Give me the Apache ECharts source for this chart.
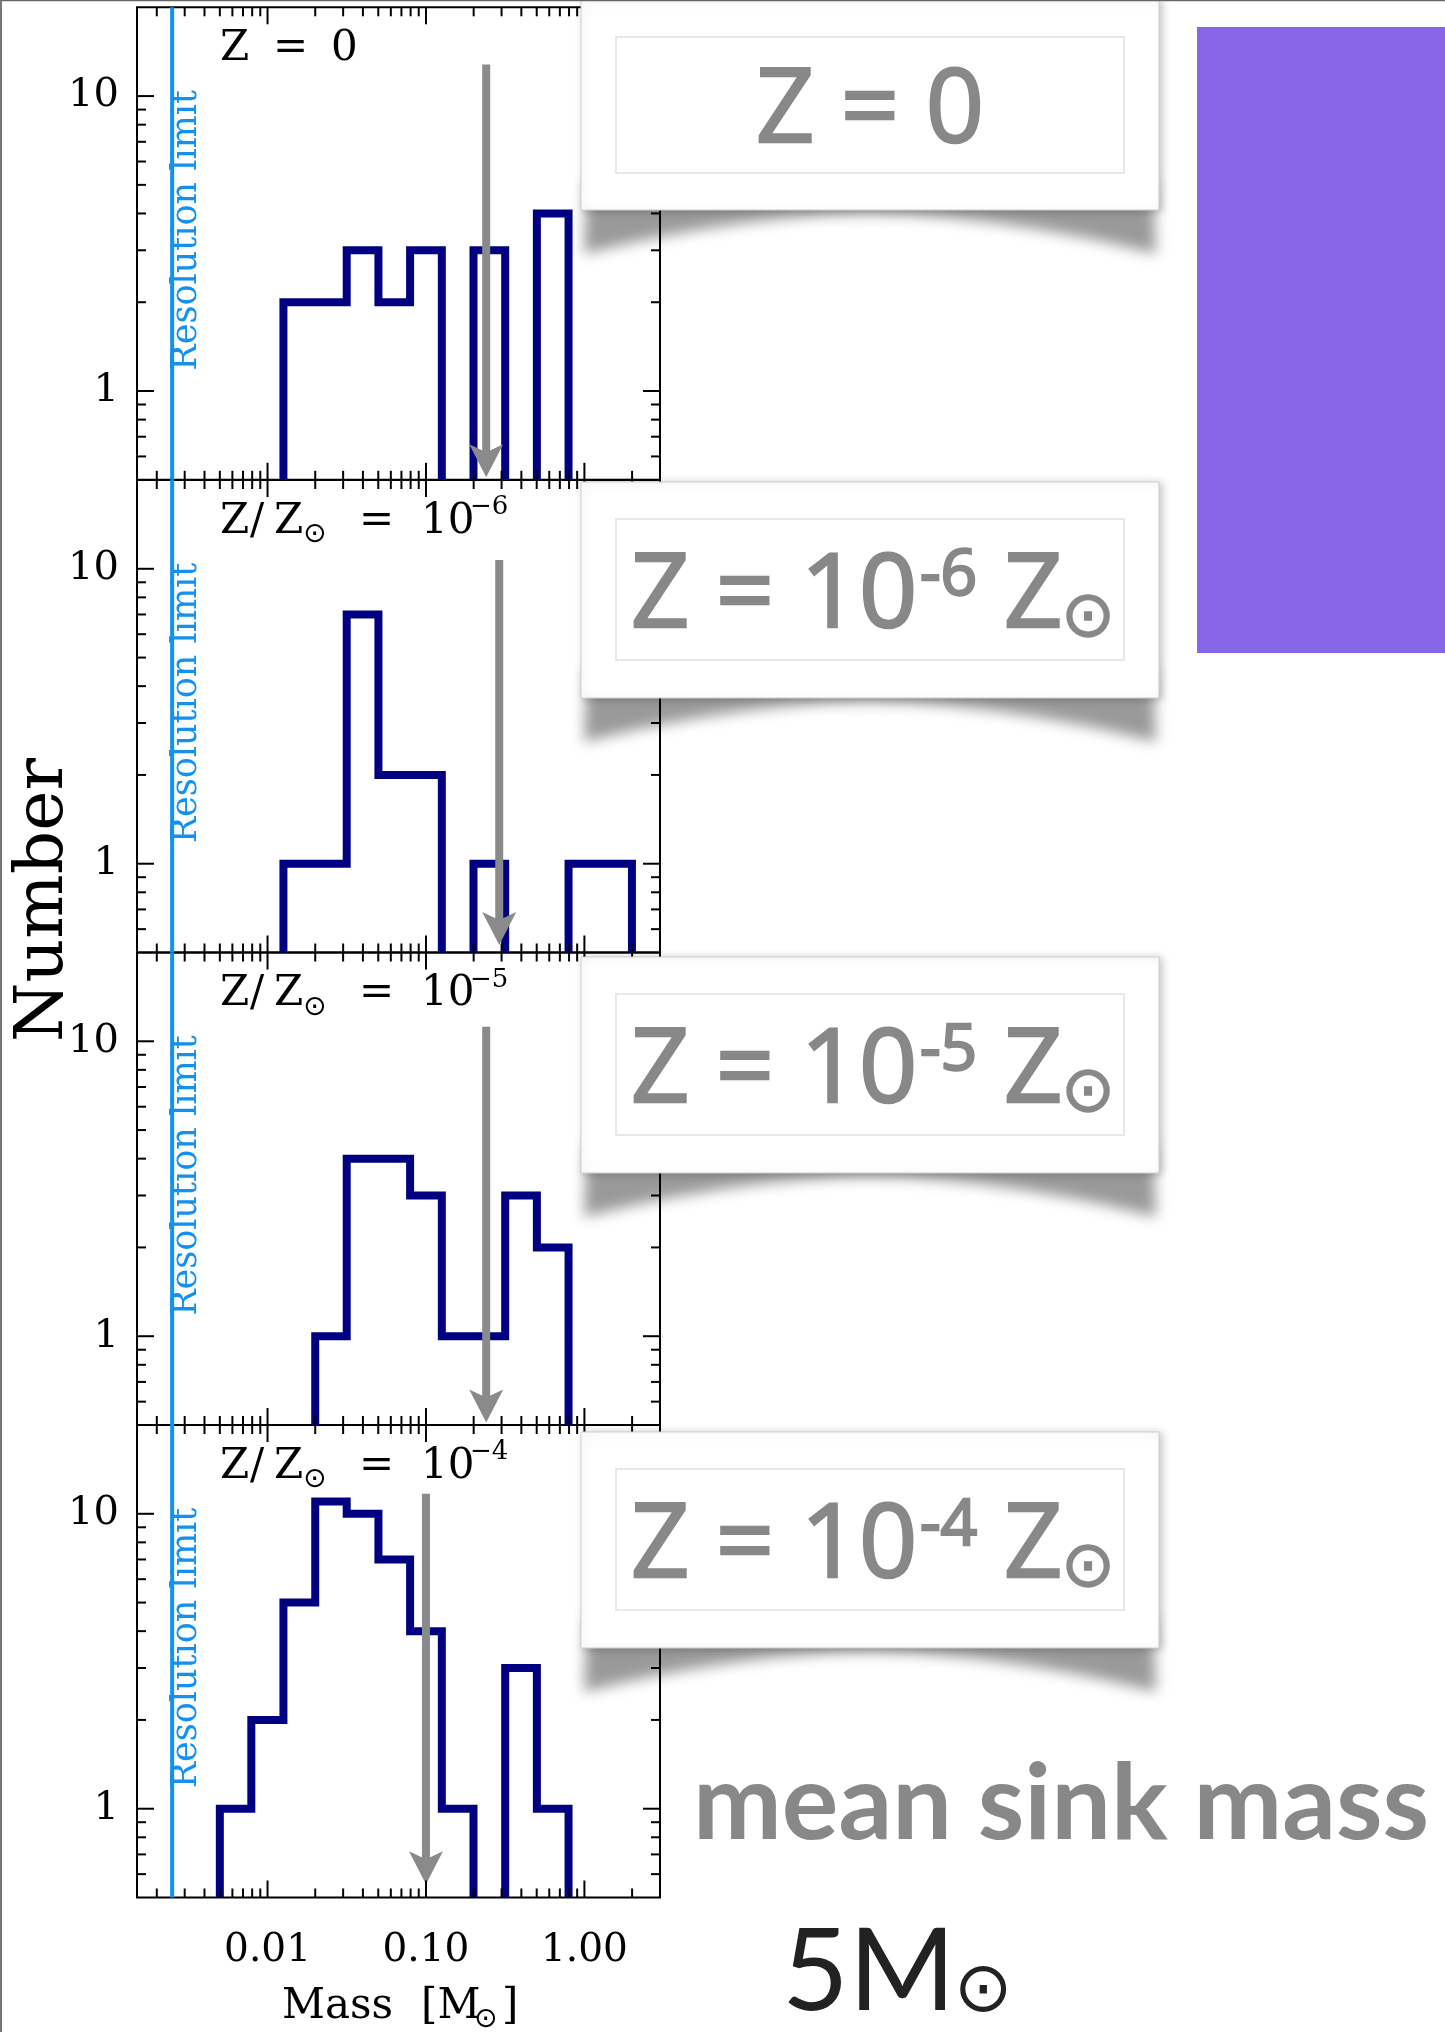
<!DOCTYPE html>
<html>
<head>
<meta charset="utf-8">
<script src="https://cdn.jsdelivr.net/npm/echarts@6/dist/echarts.min.js"></script>
<style>
  html, body { margin: 0; padding: 0; background: #ffffff; }
  #chart { width: 1445px; height: 2032px; }
</style>
</head>
<body>
<div id="chart"></div>
<script>
// Sink mass functions at four metallicities, counts per 0.2 dex mass bin
const BIN_EDGES = [0.0050, 0.0079, 0.0126, 0.0200, 0.0316, 0.0501, 0.0794,
                   0.1259, 0.1995, 0.3162, 0.5012, 0.7943, 1.2589, 1.9953];
const COUNTS_Z0  = [0, 0, 2, 2, 3, 2, 3, 0, 3, 0, 4, 0, 0];
const COUNTS_1E6 = [0, 0, 1, 1, 7, 2, 2, 0, 1, 0, 0, 1, 1];
const COUNTS_1E5 = [0, 0, 0, 1, 4, 4, 3, 1, 1, 3, 2, 0, 0];
const COUNTS_1E4 = [1, 2, 5, 11, 10, 7, 4, 1, 0, 3, 1, 0, 0];

// mean sink mass (arrow position) and the arrow extent in each panel
const MEAN_MASS = [0.24, 0.29, 0.24, 0.10];
const ARROW_TOP = [12.8, 10.7, 11.2, 11.7];
const ARROW_TIP = [0.51, 0.53, 0.51, 0.555];

const RES_LIMIT = 0.0025;           // resolution limit [Msun]
const EXPONENTS = ['', '6', '5', '4'];  // Z/Zsun = 10^-n, first panel Z = 0

// axis ranges and tick values
const X_RANGE = [0.0015, 3];
const Y_RANGE = [0.5, 20];
const X_MAJOR = [0.01, 0.1, 1];
const X_MINOR = [0.002, 0.003, 0.004, 0.005, 0.006, 0.007, 0.008, 0.009,
                 0.02, 0.03, 0.04, 0.05, 0.06, 0.07, 0.08, 0.09,
                 0.2, 0.3, 0.4, 0.5, 0.6, 0.7, 0.8, 0.9, 2];
const Y_MAJOR = [1, 10];
const Y_MINOR = [0.6, 0.7, 0.8, 0.9, 2, 3, 4, 5, 6, 7, 8, 9];

const PANELS = [COUNTS_Z0, COUNTS_1E6, COUNTS_1E5, COUNTS_1E4];

// ---- styling / layout ----
const SERIF = '"DejaVu Serif", serif';
const SANS = '"Open Sans", sans-serif';
const HEAVY_SANS = 'Lato, sans-serif';
const SYM = '"DejaVu Sans", sans-serif';
const NAVY = '#000080';
const BLUE = '#1390f0';
const ARROW_GRAY = '#8a8a8a';
const TEXT_GRAY = '#888888';

const GRID_LEFT = 137, GRID_W = 523, GRID_H = 472.5;
const GRID_TOPS = [7.3, 480, 952.5, 1425];

const chart = echarts.init(document.getElementById('chart'), null,
  { renderer: 'canvas', width: 1445, height: 2032 });

// split a histogram into step-outline runs; empty bins drop to the axis floor
function outlineRuns(edges, counts) {
  const runs = [];
  let run = null;
  counts.forEach(function (c, i) {
    if (c > 0) {
      if (!run) { run = [[edges[i], Y_RANGE[0]]]; runs.push(run); }
      run.push([edges[i], c], [edges[i + 1], c]);
    } else if (run) {
      run.push([edges[i], Y_RANGE[0]]);
      run = null;
    }
  });
  if (run) run.push([edges[counts.length], Y_RANGE[0]]);
  return runs;
}

// inward ticks on all four sides of a panel
function tickData() {
  const d = [];
  X_MAJOR.forEach(v => d.push([v, 1, 0, 1]));
  X_MINOR.forEach(v => d.push([v, 1, 0, 0]));
  Y_MAJOR.forEach(v => d.push([0.01, v, 1, 1]));
  Y_MINOR.forEach(v => d.push([0.01, v, 1, 0]));
  return d;
}
function renderTick(params, api) {
  const cs = params.coordSys;
  const len = api.value(3) ? 17 : 9;
  const style = { stroke: '#000', lineWidth: 2 };
  const p = api.coord([api.value(0), api.value(1)]);
  if (api.value(2) === 0) {
    const b = cs.y + cs.height, t = cs.y;
    return { type: 'group', children: [
      { type: 'line', shape: { x1: p[0], y1: b, x2: p[0], y2: b - len }, style: style },
      { type: 'line', shape: { x1: p[0], y1: t, x2: p[0], y2: t + len }, style: style }
    ] };
  }
  const l = cs.x, r = cs.x + cs.width;
  return { type: 'group', children: [
    { type: 'line', shape: { x1: l, y1: p[1], x2: l + len, y2: p[1] }, style: style },
    { type: 'line', shape: { x1: r, y1: p[1], x2: r - len, y2: p[1] }, style: style }
  ] };
}

// downward arrow marking the mean sink mass
function renderArrow(params, api) {
  const top = api.coord([api.value(0), api.value(1)]);
  const tip = api.coord([api.value(0), api.value(2)]);
  const headL = 33, headHalf = 17, notch = 8;
  return { type: 'group', children: [
    { type: 'line',
      shape: { x1: top[0], y1: top[1], x2: tip[0], y2: tip[1] - headL + notch },
      style: { stroke: ARROW_GRAY, lineWidth: 8, lineCap: 'butt' } },
    { type: 'polygon',
      shape: { points: [[tip[0], tip[1]], [tip[0] - headHalf, tip[1] - headL],
                        [tip[0], tip[1] - headL + notch], [tip[0] + headHalf, tip[1] - headL]] },
      style: { fill: ARROW_GRAY } }
  ] };
}

const grids = [], xAxes = [], yAxes = [], series = [];
PANELS.forEach(function (counts, i) {
  grids.push({ left: GRID_LEFT, top: GRID_TOPS[i], width: GRID_W, height: GRID_H,
    show: true, borderColor: '#000', borderWidth: 2, backgroundColor: 'transparent',
    containLabel: false, outerBoundsMode: 'none' });
  xAxes.push({ type: 'log', logBase: 10, gridIndex: i, min: X_RANGE[0], max: X_RANGE[1],
    axisLine: { show: false }, axisTick: { show: false }, splitLine: { show: false },
    axisLabel: { show: i === PANELS.length - 1, customValues: X_MAJOR, margin: 34,
      fontFamily: SERIF, fontSize: 39, color: '#000',
      formatter: v => X_MAJOR.some(t => Math.abs(v / t - 1) < 1e-6) ? v.toFixed(2) : '' } });
  yAxes.push({ type: 'log', logBase: 10, gridIndex: i, min: Y_RANGE[0], max: Y_RANGE[1],
    axisLine: { show: false }, axisTick: { show: false }, splitLine: { show: false },
    axisLabel: { show: true, customValues: Y_MAJOR, margin: 18,
      fontFamily: SERIF, fontSize: 40, color: '#000',
      formatter: v => Y_MAJOR.some(t => Math.abs(v / t - 1) < 1e-6) ? String(Math.round(v)) : '' } });

  series.push({ type: 'line', xAxisIndex: i, yAxisIndex: i, silent: true, z: 2,
    data: [[RES_LIMIT, Y_RANGE[0]], [RES_LIMIT, Y_RANGE[1]]],
    symbol: 'none', lineStyle: { color: BLUE, width: 4 } });
  outlineRuns(BIN_EDGES, counts).forEach(function (run) {
    series.push({ type: 'line', xAxisIndex: i, yAxisIndex: i, silent: true, z: 3,
      data: run, symbol: 'none', clip: true,
      lineStyle: { color: NAVY, width: 8, join: 'miter', cap: 'butt' } });
  });
  series.push({ type: 'custom', xAxisIndex: i, yAxisIndex: i, silent: true, z: 4,
    data: [[MEAN_MASS[i], ARROW_TOP[i], ARROW_TIP[i]]], encode: { x: 0, y: 1 },
    renderItem: renderArrow });
  series.push({ type: 'custom', xAxisIndex: i, yAxisIndex: i, silent: true, z: 5,
    dimensions: ['x', 'y', 'kind', 'major'], encode: { x: 0, y: 1 },
    data: tickData(), renderItem: renderTick });
});

chart.setOption({
  animation: false,
  backgroundColor: '#ffffff',
  grid: grids, xAxis: xAxes, yAxis: yAxes, series: series
});

// ---- annotations ----
function text(x, y, str, size, family, color, extra) {
  const el = { type: 'text', x: x, y: y, z: 120, silent: true,
    style: { text: str, fontSize: size, fontFamily: family, fill: color || '#000',
             align: 'left', verticalAlign: 'middle' } };
  if (extra) {
    if (extra.style) Object.assign(el.style, extra.style);
    if (extra.rotation !== undefined) el.rotation = extra.rotation;
    if (extra.z !== undefined) el.z = extra.z;
  }
  return el;
}

const graphics = [];

// page frame
graphics.push({ type: 'line', z: 130, silent: true, shape: { x1: 0, y1: 0.5, x2: 1445, y2: 0.5 },
  style: { stroke: '#666', lineWidth: 1.5 } });
graphics.push({ type: 'line', z: 130, silent: true, shape: { x1: 1, y1: 0, x2: 1, y2: 2032 },
  style: { stroke: '#777', lineWidth: 2 } });

// panel labels and resolution-limit captions
GRID_TOPS.forEach(function (T, i) {
  const cy = T + 42;
  if (i === 0) {
    graphics.push(text(220, cy, 'Z', 42, SERIF));
    graphics.push(text(273, cy, '=', 42, SERIF));
    graphics.push(text(331, cy, '0', 42, SERIF));
  } else {
    graphics.push(text(220, cy, 'Z', 42, SERIF));
    graphics.push(text(250, cy, '/', 42, SERIF));
    graphics.push(text(274, cy, 'Z', 42, SERIF));
    graphics.push(text(303, T + 55, '\u2299', 28, SYM));
    graphics.push(text(359, cy, '=', 42, SERIF));
    graphics.push(text(421, cy, '10', 42, SERIF));
    graphics.push(text(470, T + 27.5, '\u2212' + EXPONENTS[i], 26, SERIF));
  }
  const px = chart.convertToPixel({ gridIndex: i }, [RES_LIMIT, 1]);
  graphics.push(text(px[0] + 15, T + 223, 'Resolution limit', 35, SERIF, BLUE,
    { rotation: Math.PI / 2, style: { align: 'center' } }));
});

// axis titles
graphics.push(text(44, 900, 'Number', 68, SERIF, '#000',
  { rotation: Math.PI / 2, style: { align: 'center' } }));
graphics.push(text(282, 2007, 'Mass', 42, SERIF));
graphics.push(text(421, 2007, '[M', 42, SERIF));
graphics.push(text(474, 2020, '\u2299', 28, SYM));
graphics.push(text(502, 2007, ']', 42, SERIF));

// metallicity cards with a lifted paper shadow
const CARD_X0 = 581, CARD_X1 = 1159;
const CARD_TOPS = [0, 482, 957, 1432];
const CARD_HEIGHTS = [210, 216, 216, 216];
function cardShadow(yb) {
  const off = -3000;
  const pts = [[CARD_X0 + 6 + off, yb - 30], [CARD_X1 - 6 + off, yb - 30]];
  const n = 48;
  for (let k = 0; k <= n; k++) {
    const t = k / n;
    const x = CARD_X1 - 3 - t * (CARD_X1 - CARD_X0 - 6);
    const u = Math.abs(2 * t - 1);
    const y = yb + 4 + 40 * Math.pow(u, 1.8);
    pts.push([x + off, y]);
  }
  return { type: 'polygon', z: 98, silent: true, shape: { points: pts },
    style: { fill: '#000', shadowBlur: 14, shadowColor: 'rgba(0,0,0,0.4)', shadowOffsetX: -off } };
}
// card lettering: regular face with a thin outline for a medium weight
const CARD_TEXT = { stroke: TEXT_GRAY, lineWidth: 2.5 };
CARD_TOPS.forEach(function (B, i) {
  const H = CARD_HEIGHTS[i];
  graphics.push(cardShadow(B + H));
  graphics.push({ type: 'rect', z: 100, silent: true,
    shape: { x: CARD_X0, y: B, width: CARD_X1 - CARD_X0, height: H },
    style: { fill: '#fff', stroke: '#cfcfcf', lineWidth: 1,
             shadowBlur: 8, shadowColor: 'rgba(0,0,0,0.22)', shadowOffsetX: 3, shadowOffsetY: 1 } });
  const innerBottom = i === 0 ? 173 : 178;
  graphics.push({ type: 'rect', z: 101, silent: true,
    shape: { x: 616, y: B + 37, width: 508, height: innerBottom - 37 },
    style: { fill: '#fff', stroke: '#e8e8e8', lineWidth: 2 } });
  if (i === 0) {
    graphics.push(text(870, B + 113, 'Z = 0', 102, SANS, TEXT_GRAY,
      { style: Object.assign({ align: 'center' }, CARD_TEXT) }));
  } else {
    graphics.push(text(631, B + 116, 'Z = 10', 102, SANS, TEXT_GRAY, { style: CARD_TEXT }));
    graphics.push(text(920, B + 95, '-' + EXPONENTS[i], 64, SANS, TEXT_GRAY, { style: CARD_TEXT }));
    graphics.push(text(1004, B + 116, 'Z', 102, SANS, TEXT_GRAY, { style: CARD_TEXT }));
    graphics.push(text(1088, B + 137, '\u2299', 64, SYM, TEXT_GRAY,
      { style: { align: 'center', stroke: TEXT_GRAY, lineWidth: 1.5 } }));
  }
});

// purple colour swatch
graphics.push({ type: 'rect', z: 100, silent: true,
  shape: { x: 1197, y: 27, width: 248, height: 626 }, style: { fill: '#8766e8' } });

// caption
graphics.push(text(693, 1805, 'mean sink mass', 106, HEAVY_SANS, TEXT_GRAY,
  { style: { fontWeight: 'bold' } }));
graphics.push(text(782, 1973, '5M', 115, HEAVY_SANS, '#222'));
graphics.push(text(954, 1993, '\u2299', 70, SYM, '#222'));

chart.setOption({ graphic: { elements: graphics } });
</script>
</body>
</html>
